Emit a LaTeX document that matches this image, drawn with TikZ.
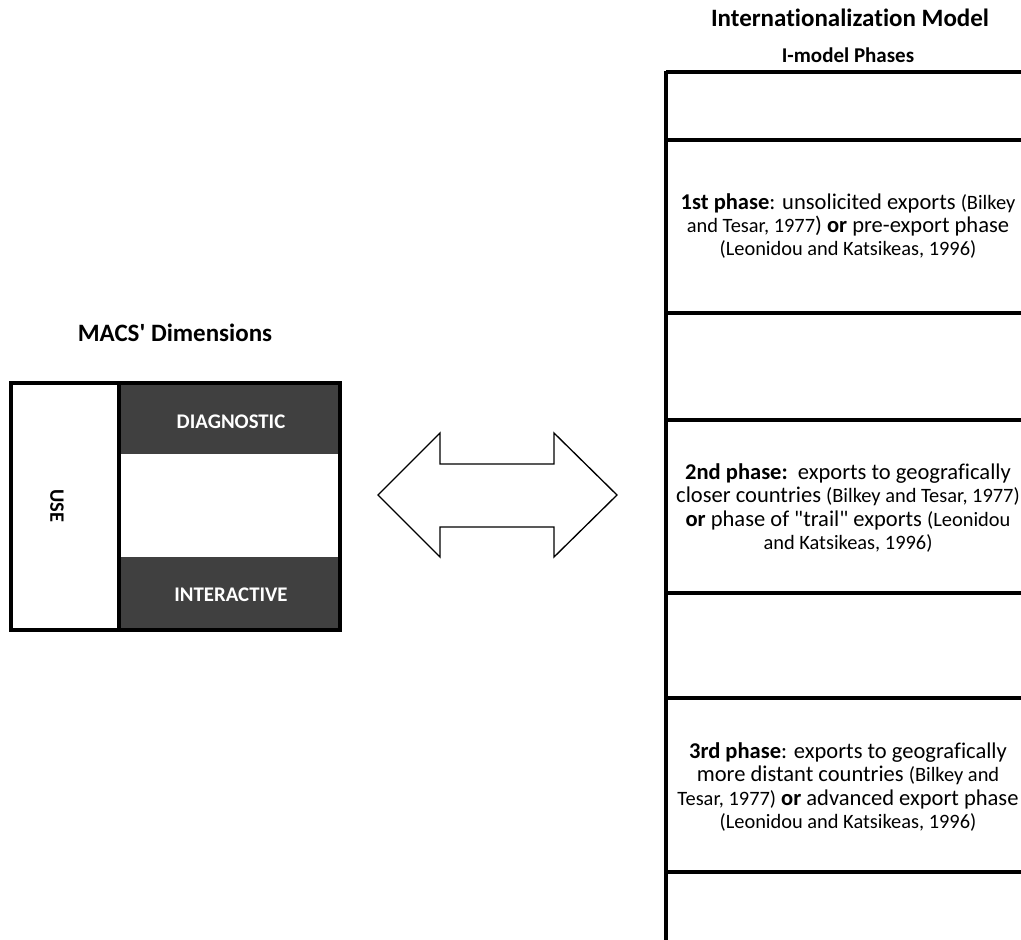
\documentclass[tikz,border=0pt]{standalone}
\usepackage{fontspec}
\defaultfontfeatures[\rmfamily]{}
\setmainfont{Carlito}[Ligatures={NoCommon}]
\definecolor{bandgray}{HTML}{404040}
\newcommand{\refnote}[1]{{\fontsize{15.3}{17.5}\selectfont #1}}
\begin{document}
\begin{tikzpicture}[x=0.75pt,y=-0.75pt,
  heading/.style={font=\fontsize{18.75}{22}\selectfont\bfseries},
  subheading/.style={font=\fontsize{15.75}{18}\selectfont\bfseries},
  bandlabel/.style={font=\fontsize{15.6}{18}\selectfont\bfseries, text=white},
  uselabel/.style={font=\fontsize{15.3}{18}\selectfont\bfseries, rotate=-90},
  phase/.style={align=center, inner sep=0pt, font=\fontsize{16.9}{17.5}\selectfont},
  rule/.style={line width=3pt},
  frame/.style={line width=2.4pt},
  arrowline/.style={line width=1pt, line join=miter}]
\useasboundingbox (0,0) rectangle (1021,939);
\clip (0,0) rectangle (1021,939);
% left block
\node[heading] (macs) at (175,333) {MACS' Dimensions};
\fill[bandgray] (119,383) rectangle (340,454);
\fill[bandgray] (119,557) rectangle (340,630);
\draw[frame] (11,383) rectangle (340,630);
\draw[frame] (119,383) -- (119,630);
\node[uselabel] (use) at (57,506) {USE};
\node[bandlabel] (diag) at (231,422) {DIAGNOSTIC};
\node[bandlabel] (inter) at (231,595) {INTERACTIVE};
% double arrow
\draw[arrowline] (378,495) -- (440,433) -- (440,464) -- (554,464) -- (554,433)
  -- (617,495) -- (554,557) -- (554,527) -- (440,527) -- (440,557) -- cycle;
% right table
\node[heading] (imodel) at (850,18) {Internationalization Model};
\node[subheading] (phases) at (848,55) {I-model Phases};
\foreach \y in {72,140,313,420,593,698,872}
  \draw[rule] (666,\y) -- (1030,\y);
\draw[rule] (666,70.5) -- (666,945);
\node[phase] (first) at (848,226) {\textbf{1st phase}: unsolicited exports \refnote{(Bilkey}\\
  \refnote{and Tesar, 1977}) \textbf{or} pre-export phase\\
  \refnote{(Leonidou and Katsikeas, 1996)}};
\node[phase] (second) at (848,508) {\textbf{2nd phase:}\ \ exports to geografically\\
  closer countries \refnote{(Bilkey and Tesar, 1977)}\\
  \textbf{or} phase of "trail" exports \refnote{(Leonidou}\\
  \refnote{and Katsikeas, 1996)}};
\node[phase] (third) at (848,787) {\textbf{3rd phase}: exports to geografically\\
  more distant countries \refnote{(Bilkey and}\\
  \refnote{Tesar, 1977)} \textbf{or} advanced export phase\\
  \refnote{(Leonidou and Katsikeas, 1996)}};
\end{tikzpicture}
\end{document}
